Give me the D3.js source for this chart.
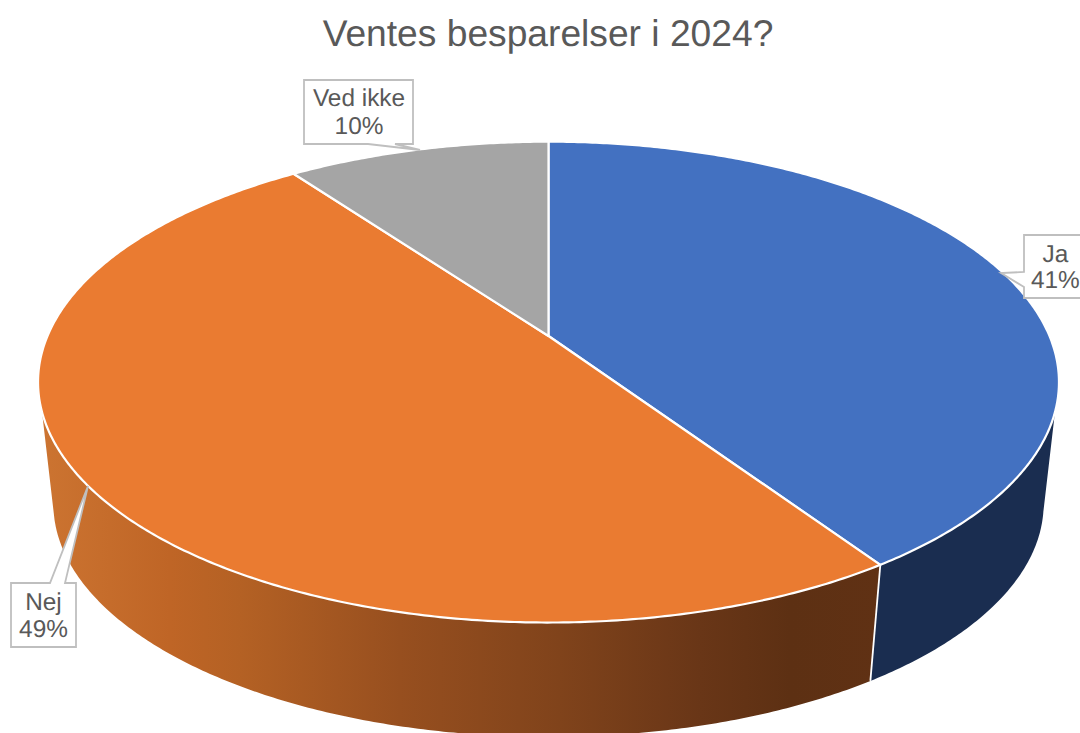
<!DOCTYPE html>
<html><head><meta charset="utf-8">
<script src="https://cdnjs.cloudflare.com/ajax/libs/d3/7.8.5/d3.min.js"></script>
<style>html,body{margin:0;padding:0;background:#fff;overflow:hidden}svg{display:block}text{font-family:"Liberation Sans",Arial,sans-serif;fill:#595959;text-rendering:geometricPrecision}</style>
</head><body><svg id="c" width="1080" height="733"></svg>
<script>
const chartTitle = "Ventes besparelser i 2024?";
const categories = ["Ja", "Nej", "Ved ikke"];
const shares = [40.6, 49.4, 10.0];
const shareLabels = ["41%", "49%", "10%"];

// geometry of the tilted, perspective disc
const W = 1080, H = 733;
const cx = 548.5, apexTop = 336, A = 501, B = 231.6, K = -0.1917;
const bottomScale = 0.97, apexBottom = 459;
const RIGHT_TOP = 108, RIGHT_BOT = 103, LEFT_TOP = 252, LEFT_BOT = 255;
const rad = Math.PI / 180;

const topFill = ["#4371c1", "#ea7b31", "#a5a5a5"];
const sideFill = ["#1a2d50", "url(#nejSide)", "#5f5f5f"];
const nejStops = [[40,"#cc7431"],[170,"#bf6526"],[240,"#b46124"],[400,"#974f1f"],[560,"#80431b"],[700,"#693617"],[790,"#5d3013"],[880,"#603114"]];

const boxes = [
  {x:1024,y:235,w:66,h:63, tip:[1001,273], side:"left", base:[272,287], tx:1055.4, ty:[262,288]},
  {x:11,y:583,w:65,h:64, tip:[88,486], side:"top", base:[50,65], tx:43.5, ty:[610,637]},
  {x:304,y:80,w:109,h:64, tip:[420,150], side:"bottom", base:[368,395], tx:359, ty:[106,134]}
];

const svg = d3.select("#c");
const grad = svg.append("defs").append("linearGradient").attr("id","nejSide")
  .attr("gradientUnits","userSpaceOnUse").attr("x1",40).attr("x2",880).attr("y1",0).attr("y2",0);
const sx = d3.scaleLinear().domain([40,880]).range([0,1]);
nejStops.forEach(s => grad.append("stop").attr("offset",sx(s[0])).attr("stop-color",s[1]));

const pie = d3.pie().sort(null).value(d => d)(shares);

function proj(a, bottom) {
  const u = Math.sin(a), v = -Math.cos(a), d = 1 + K * v;
  const s = bottom ? bottomScale : 1, y0 = bottom ? apexBottom : apexTop;
  return [cx + s * A * u / d, y0 + s * B * v / d];
}
function arcPts(a0, a1, bottom) {
  const n = Math.max(2, Math.ceil(Math.abs(a1 - a0) / (0.5 * rad)));
  return d3.range(n + 1).map(i => proj(a0 + (a1 - a0) * i / n, bottom));
}
const line = d3.line();

// sides: only the front-facing part of each slice
const sides = pie.map((p, i) => {
  const vis = [RIGHT_TOP*rad, LEFT_TOP*rad], visB = [RIGHT_BOT*rad, LEFT_BOT*rad];
  const t0 = Math.max(p.startAngle, vis[0]), t1 = Math.min(p.endAngle, vis[1]);
  if (t0 >= t1) return null;
  const b0 = p.startAngle > vis[0] ? p.startAngle : visB[0];
  const b1 = p.endAngle < vis[1] ? p.endAngle : visB[1];
  return {i, d: line(arcPts(t0, t1, false).concat(arcPts(b1, b0, true))) + "Z"};
}).filter(Boolean);

svg.append("g").selectAll("path").data(sides).join("path")
  .attr("d", d => d.d).attr("fill", d => sideFill[d.i]);

// white divider between the two visible sides
const joint = pie[0].endAngle;
svg.append("path").attr("d", line([proj(joint,false), proj(joint,true)]))
  .attr("stroke","#fff").attr("stroke-width",1.8).attr("fill","none");

// top faces
svg.append("g").selectAll("path").data(pie).join("path")
  .attr("d", p => line([[cx,apexTop]].concat(arcPts(p.startAngle,p.endAngle,false))) + "Z")
  .attr("fill",(p,i)=>topFill[i]).attr("stroke","#fff").attr("stroke-width",2.2).attr("stroke-linejoin","round");

// title
svg.append("text").attr("x",548).attr("y",46).attr("text-anchor","middle")
  .attr("font-size",37.2).text(chartTitle);

// callouts
boxes.forEach((b,i) => {
  const x0=b.x, x1=b.x+b.w, y0=b.y, y1=b.y+b.h;
  let pts;
  if (b.side==="left") pts=[[x0,y0],[x1,y0],[x1,y1],[x0,y1],[x0,b.base[1]],b.tip,[x0,b.base[0]]];
  else if (b.side==="top") pts=[[x0,y0],[b.base[0],y0],b.tip,[b.base[1],y0],[x1,y0],[x1,y1],[x0,y1]];
  else pts=[[x0,y0],[x1,y0],[x1,y1],[b.base[1],y1],b.tip,[b.base[0],y1],[x0,y1]];
  svg.append("path").attr("d", line(pts)+"Z").attr("fill","#fff").attr("stroke","#bfbfbf").attr("stroke-width",1.8);
  const t = svg.append("text").attr("text-anchor","middle").attr("font-size",24.4);
  t.append("tspan").attr("x",b.tx).attr("y",b.ty[0]).text(categories[i]);
  t.append("tspan").attr("x",b.tx).attr("y",b.ty[1]).text(shareLabels[i]);
});
</script></body></html>
